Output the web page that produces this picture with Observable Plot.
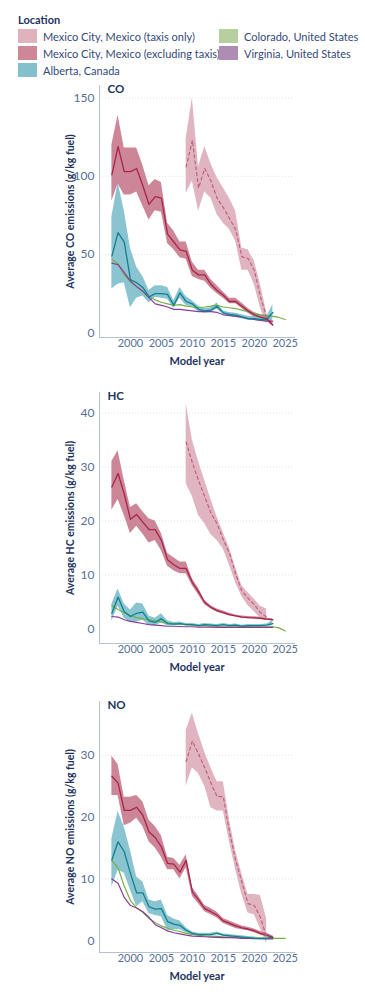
<!DOCTYPE html>
<html><head><meta charset="utf-8">
<script src="https://cdn.jsdelivr.net/npm/d3@7"></script>
<script src="https://cdn.jsdelivr.net/npm/@observablehq/plot@0.6"></script>
<style>
body{margin:0;background:#fff;font-family:Lato,"Open Sans",sans-serif;}
#legend{position:relative;height:80px;width:365px;color:#34497a;font-size:11px;}
#legend .title{position:absolute;left:18px;top:13px;font-weight:bold;color:#1d3461;font-size:11px;}
#legend .item{position:absolute;display:flex;align-items:center;height:14px;white-space:nowrap;}
#legend .sw{width:19px;height:14px;margin-right:6px;flex:none;}
#charts svg{display:block;}
</style></head><body>
<div id="legend"></div>
<div id="charts"></div>
<script>
// ---- categories ----
const seriesNames = ["Mexico City, Mexico (taxis only)", "Mexico City, Mexico (excluding taxis)", "Alberta, Canada", "Colorado, United States", "Virginia, United States"];
const swatchColors = ["#dfb2bd", "#cd8797", "#83c0cc", "#b5cf9e", "#af8cb4"];
const xTicks = [2000, 2005, 2010, 2015, 2020, 2025];
const xDomain = [1995, 2026.5];
const yearsMain = [1997,1998,1999,2000,2001,2002,2003,2004,2005,2006,2007,2008,2009,2010,2011,2012,2013,2014,2015,2016,2017,2018,2019,2020,2021,2022,2023];
const yearsTaxi = [2009,2010,2011,2012,2013,2014,2015,2016,2017,2018,2019,2020,2021,2022];
const yearsColorado = [1997,1998,1999,2000,2001,2002,2003,2004,2005,2006,2007,2008,2009,2010,2011,2012,2013,2014,2015,2016,2017,2018,2019,2020,2021,2022,2023,2024,2025];

// ---- CO ----
const coTicks = [0, 50, 100, 150];
const coTaxi   = [106,123,92.5,105,97,86,80,73,66,48.5,47.5,40,23,10];
const coTaxiHi = [124,150,106,119,108,99,92.5,86,77.6,54,53,46,31,13];
const coTaxiLo = [89,97,77.6,90,86,75.6,70,66,58.5,40,40,31,16,5.5];
const coExcl   = [101,119,103,103,105,94,82,87,86,63,58,53,52,40,37,37,31,27,24,20,20,17,14,11.5,10,9,5];
const coExclHi = [120,139,118,118,118,107,94,98,96,70,65,58,58,45,40,40,34,30,26,22,22,19,15.5,13,11.5,11,7];
const coExclLo = [84,95,88,88,90,81,72,78,77,57,53,48,47,36,34,33,28.5,25,22,18.5,18.5,15.5,12.5,10,9,7.5,4];
const coAlb    = [49,64,58,34,32,29,23,25,25,24.5,17.7,25.5,20,18.5,15,14,14.5,17,12.8,11.7,11.3,10.2,9.1,9,8.5,8.5,13];
const coAlbHi  = [74,96,78,54,42,36,27,30,30,29,20.5,29,23,20.5,17,15.5,16,19,14,13,12.5,11.5,10.5,10.2,10,10,18];
const coAlbLo  = [28,31,32,16,22,23.5,19,22.5,22,21.5,15.5,22,17.5,16.5,13.5,12.5,13,15,11.5,10.5,10,9,8,7.8,7.3,7,8];
const coCol    = [47,44,37,32.5,29.5,26.5,23,21,19.5,18.5,17.5,18,17,16.5,16,16.5,17,17.5,16.5,16,15.5,14.5,13.5,12.5,11.5,11,10.5,9.8,8.5];
const coVir    = [44.5,43.5,38.5,33,29.5,26.5,22.5,18.5,17.5,16.5,15,15,14.5,14,13.5,13.5,13.5,13,11.5,11,10.5,10,9,8.5,8,7.5,7.5];

// ---- HC ----
const hcTicks = [0, 10, 20, 30, 40];
const hcTaxi   = [34.6,30.8,27.5,24.5,21.5,19.5,16.5,14,10.2,7,5.7,4.5,3,2.2];
const hcTaxiHi = [41.7,35,31,27.5,24,20.7,17.8,15,11.3,8,6.7,5.5,4.2,3.7];
const hcTaxiLo = [26.9,24.6,21,19.5,17.5,16.4,14.8,11.8,8.5,6,4.3,3.2,2,1.5];
const hcExcl   = [26.3,28.8,25,20.3,21.2,19.8,18.4,18.4,16.4,12.8,11.9,11.2,11.2,8.6,6.9,4.9,4.0,3.4,3.0,2.65,2.4,2.2,2.1,2.05,1.95,1.8,1.7];
const hcExclHi = [31,33,27.5,22.5,23.2,21.7,20.4,20,17.7,14,13.2,12.4,12.4,9.3,7.5,5.3,4.3,3.7,3.3,2.9,2.6,2.4,2.3,2.25,2.15,2.0,1.9];
const hcExclLo = [22,24,21,17.7,19,17.6,15.9,16.4,14.5,11.6,10.8,10.2,10.2,8.0,6.3,4.5,3.7,3.1,2.75,2.4,2.2,2.0,1.9,1.85,1.75,1.6,1.5];
const hcAlb    = [2.9,5.9,3.2,2.3,2.9,3.1,1.5,1.2,1.9,1.0,0.9,1.0,0.8,0.8,0.6,0.8,0.7,0.6,0.8,0.6,0.7,0.5,0.6,0.6,0.6,0.7,1.0];
const hcAlbHi  = [4.6,7.4,4.6,3.5,4.8,4.6,2.4,2.0,2.8,1.5,1.2,1.3,1.0,1.0,0.8,1.0,0.9,0.8,1.0,0.8,0.9,0.7,0.8,0.8,0.8,0.9,1.5];
const hcAlbLo  = [1.4,4.2,2.0,1.2,1.3,1.6,0.7,0.6,1.1,0.6,0.6,0.7,0.6,0.6,0.4,0.6,0.5,0.4,0.6,0.4,0.5,0.3,0.4,0.4,0.4,0.5,0.6];
const hcCol    = [4.3,3.6,3.0,2.5,2.1,1.9,1.7,1.5,1.3,1.1,1.0,0.9,0.8,0.7,0.6,0.6,0.5,0.5,0.5,0.5,0.5,0.45,0.45,0.4,0.4,0.4,0.4,0.2,-0.4];
const hcVir    = [2.3,2.2,1.7,1.4,1.2,1.0,0.8,0.7,0.6,0.5,0.5,0.45,0.4,0.4,0.35,0.35,0.35,0.3,0.3,0.3,0.3,0.3,0.3,0.3,0.3,0.3,0.3];

// ---- NO ----
const noTicks = [0, 10, 20, 30];
const noTaxi   = [29,32.3,30.2,28,25.5,23.3,23.3,17.6,13,9.5,6,5.7,3.8,0.5];
const noTaxiHi = [34,36.8,33.5,30.5,28,25.7,25.7,19.5,14.5,10.8,7.5,7.5,7.3,3.5];
const noTaxiLo = [25,28,27,25,21.5,21,21,16,11.5,7.5,4.5,4.2,2,-0.5];
const noExcl   = [26.6,25.5,21.1,21.1,21.6,20.3,17.6,16.7,15.2,12.5,12.4,11.1,13.0,7.9,6.6,5.2,4.7,4.15,3.2,2.8,2.4,2.1,1.9,1.6,1.2,0.9,0.55];
const noExclHi = [29.9,28.5,23.2,23.2,23.5,22.5,19.5,18.5,17,13.5,13.3,12.2,13.9,8.6,7.2,5.7,5.2,4.6,3.6,3.2,2.8,2.4,2.2,1.9,1.5,1.2,0.8];
const noExclLo = [23.5,23.5,18.6,19,19.8,18.5,16,15,13.5,11.5,11.5,10,11.8,7.2,6,4.7,4.2,3.7,2.8,2.4,2.0,1.8,1.6,1.3,0.9,0.6,0.3];
const noAlb    = [13.1,16.0,14.4,10.9,7.75,7.75,5.5,5.1,5.2,3.1,2.7,2.5,1.7,1.2,1.0,1.0,1.0,1.2,0.9,0.8,0.7,0.6,0.5,0.4,0.35,0.4,0.6];
const noAlbHi  = [16.5,20.9,18.4,14.6,10.3,9.5,6.6,6.3,6.6,4.1,3.5,3.2,2.1,1.4,1.2,1.2,1.2,1.4,1.1,1.0,0.9,0.8,0.7,0.6,0.5,0.6,0.9];
const noAlbLo  = [8.7,11.4,10.9,8.2,5.5,6.3,4.4,4.1,3.9,1.7,1.8,1.8,1.3,0.9,0.8,0.8,0.8,1.0,0.7,0.6,0.5,0.4,0.3,0.2,0.2,0.2,0.3];
const noCol    = [13.0,11.8,8.8,6.5,5.3,4.6,3.6,2.9,2.4,2.0,1.7,1.5,1.2,1.0,0.9,0.8,0.75,0.7,0.65,0.6,0.55,0.5,0.5,0.45,0.45,0.4,0.4,0.4,0.4];
const noVir    = [10.0,9.3,7.0,5.7,5.3,4.7,3.8,2.6,2.1,1.6,1.3,1.1,0.9,0.75,0.7,0.65,0.6,0.55,0.5,0.5,0.45,0.4,0.4,0.35,0.35,0.3,0.3];

// ---- legend ----
const legend = document.getElementById("legend");
legend.innerHTML = `<div class="title">Location</div>`;
const legendPos = [[18,29],[18,46],[18,63],[219,29],[219,46]];
seriesNames.forEach((name, i) => {
  const d = document.createElement("div");
  d.className = "item";
  d.style.left = legendPos[i][0] + "px";
  d.style.top = legendPos[i][1] + "px";
  d.innerHTML = `<span class="sw" style="background:${swatchColors[i]}"></span><span>${name}</span>`;
  legend.appendChild(d);
});

// ---- panels ----
const rows = (years, v, lo, hi) => years.map((year, i) => ({year, v: v[i], lo: lo ? lo[i] : null, hi: hi ? hi[i] : null}));
const navy = "#1d3461", tickColor = "#566f98", axisColor = "#b3c1d3";

function panel(cfg) {
  const taxi = rows(yearsTaxi, cfg.taxi, cfg.taxiLo, cfg.taxiHi);
  const excl = rows(yearsMain, cfg.excl, cfg.exclLo, cfg.exclHi);
  const alb = rows(yearsMain, cfg.alb, cfg.albLo, cfg.albHi);
  const col = rows(yearsColorado, cfg.col);
  const vir = rows(yearsMain, cfg.vir);
  return Plot.plot({
    width: 365, height: cfg.height,
    marginTop: cfg.marginTop, marginBottom: 35, marginLeft: 99, marginRight: 71,
    style: {fontFamily: "Lato, sans-serif", fontSize: "11px", background: "transparent", overflow: "visible"},
    x: {domain: xDomain, axis: null},
    y: {domain: cfg.domain, axis: null},
    marks: [
      Plot.gridY(cfg.ticks.filter(t => t > 0), {stroke: "#dde3ea", strokeOpacity: 1, strokeDasharray: "1,2"}),
      Plot.areaY(taxi, {x: "year", y1: "lo", y2: "hi", fill: "#dba7b5", fillOpacity: 0.85}),
      Plot.areaY(excl, {x: "year", y1: "lo", y2: "hi", fill: "#c6798c", fillOpacity: 0.9}),
      Plot.areaY(alb, {x: "year", y1: "lo", y2: "hi", fill: "#76bac8", fillOpacity: 0.85}),
      Plot.lineY(col, {x: "year", y: "v", stroke: "#72b145", strokeWidth: 1.2}),
      Plot.lineY(vir, {x: "year", y: "v", stroke: "#8a3b98", strokeWidth: 1.2}),
      Plot.lineY(alb, {x: "year", y: "v", stroke: "#10808f", strokeWidth: 1.3}),
      Plot.lineY(excl, {x: "year", y: "v", stroke: "#a8244a", strokeWidth: 1.3}),
      Plot.lineY(taxi, {x: "year", y: "v", stroke: "#c0607c", strokeWidth: 1.2, strokeDasharray: "3,3"}),
      Plot.frame({anchor: "left", stroke: axisColor}),
      Plot.frame({anchor: "bottom", stroke: axisColor}),
      Plot.axisY(cfg.ticks, {anchor: "left", tickSize: 0, tickPadding: 5, fill: tickColor, label: null, fontSize: 12}),
      Plot.axisX(xTicks, {anchor: "bottom", tickSize: 0, tickPadding: 2, tickFormat: "d", fill: tickColor, label: null, fontSize: 11}),
      Plot.text([cfg.label], {frameAnchor: "top-left", dx: 8, dy: -1, lineAnchor: "top", textAnchor: "start", fontWeight: "bold", fill: navy, fontSize: 11.5}),
      Plot.text([cfg.yLabel], {frameAnchor: "left", rotate: -90, dx: -29, textAnchor: "middle", lineAnchor: "middle", fontWeight: "bold", fill: navy, fontSize: 10.5}),
      Plot.text(["Model year"], {frameAnchor: "bottom", dy: 24, textAnchor: "middle", lineAnchor: "middle", fontWeight: "bold", fill: navy, fontSize: 11})
    ]
  });
}

const charts = document.getElementById("charts");
charts.appendChild(panel({label: "CO", yLabel: "Average CO emissions (g/kg fuel)", domain: [-3, 158], ticks: coTicks, height: 292, marginTop: 5,
  taxi: coTaxi, taxiLo: coTaxiLo, taxiHi: coTaxiHi, excl: coExcl, exclLo: coExclLo, exclHi: coExclHi,
  alb: coAlb, albLo: coAlbLo, albHi: coAlbHi, col: coCol, vir: coVir}));
charts.appendChild(panel({label: "HC", yLabel: "Average HC emissions (g/kg fuel)", domain: [-2.7, 43.8], ticks: hcTicks, height: 306, marginTop: 20,
  taxi: hcTaxi, taxiLo: hcTaxiLo, taxiHi: hcTaxiHi, excl: hcExcl, exclLo: hcExclLo, exclHi: hcExclHi,
  alb: hcAlb, albLo: hcAlbLo, albHi: hcAlbHi, col: hcCol, vir: hcVir}));
charts.appendChild(panel({label: "NO", yLabel: "Average NO emissions (g/kg fuel)", domain: [-1.9, 38.7], ticks: noTicks, height: 309, marginTop: 23,
  taxi: noTaxi, taxiLo: noTaxiLo, taxiHi: noTaxiHi, excl: noExcl, exclLo: noExclLo, exclHi: noExclHi,
  alb: noAlb, albLo: noAlbLo, albHi: noAlbHi, col: noCol, vir: noVir}));
</script>
</body></html>
